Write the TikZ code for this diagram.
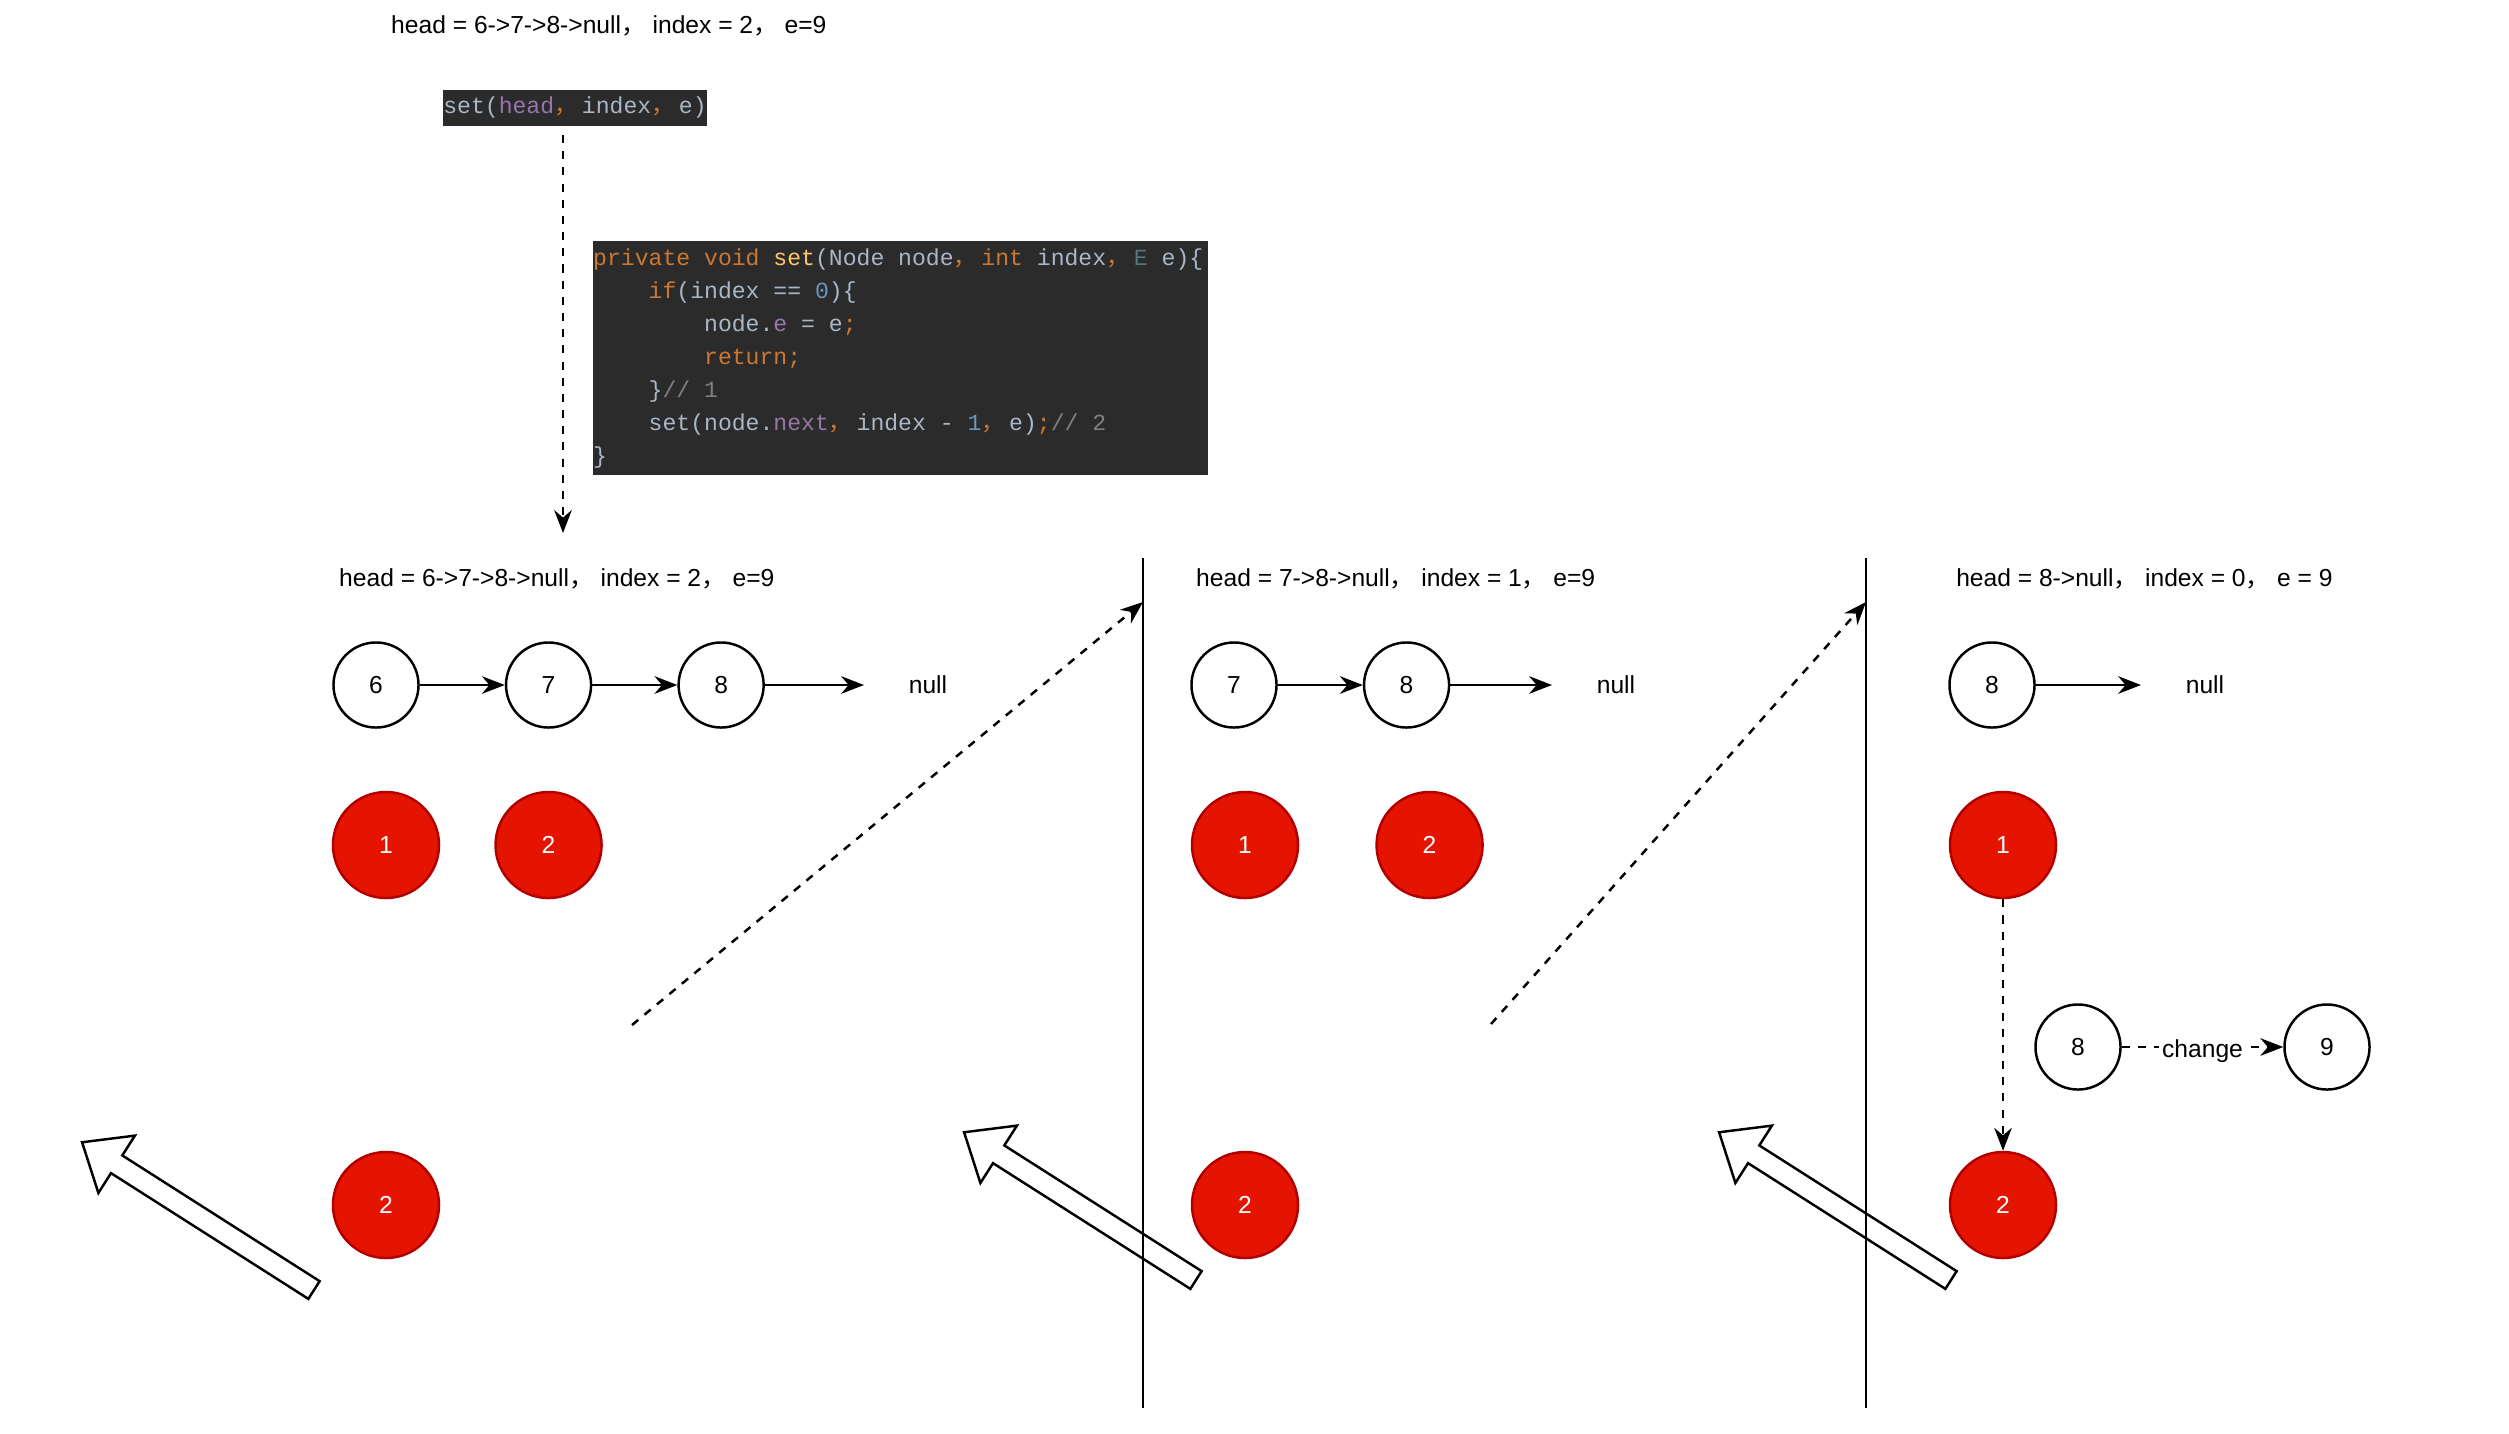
\documentclass[tikz,border=0pt]{standalone}
\usepackage{fontspec}
\setmainfont{Liberation Sans}
\newfontfamily\cjk{Noto Sans CJK SC}
\newfontfamily\codefont{Liberation Mono}
\usetikzlibrary{positioning,chains,arrows.meta}
\definecolor{callred}{RGB}{229,20,0}
\definecolor{callline}{RGB}{178,0,0}
\definecolor{codebg}{RGB}{43,43,43}
\definecolor{codetxt}{RGB}{169,183,198}
\definecolor{codekey}{RGB}{204,120,50}
\definecolor{codefun}{RGB}{255,198,109}
\definecolor{codefld}{RGB}{152,118,170}
\definecolor{codenum}{RGB}{104,151,187}
\definecolor{codecmt}{RGB}{128,128,128}
\definecolor{codetyp}{RGB}{80,120,116}
\newcommand{\fc}{{\cjk ，}}
\newcommand{\cc}{\makebox[1.2em][l]{\cjk\color{codekey}，}}
\newcommand{\ws}{\hspace*{0.6em}}
\newcommand{\ind}[1]{\hspace*{#1em}}

\begin{document}
\begin{tikzpicture}[x=0.01cm,y=-0.01cm,line width=0.7pt,
  font=\fontsize{7pt}{8.4pt}\selectfont,
  >={Stealth[length=6.5pt,width=5pt]},
  caption/.style={anchor=west,inner sep=0pt},
  listnode/.style={circle,draw,minimum size=8.5mm,inner sep=0pt},
  callnode/.style={circle,draw=callline,fill=callred,text=white,minimum size=10.6mm,inner sep=0pt},
  codebox/.style={fill=codebg,text=codetxt,inner xsep=0pt,inner ysep=2pt,
    font=\codefont\fontsize{6.57pt}{9.39pt}\selectfont,align=left},
  link/.style={->},
  calllink/.style={->,dash pattern=on 2.3pt off 2.3pt},
  divider/.style={line width=0.8pt},
  backarrow/.style={line width=0.7pt,line join=miter}
]
\useasboundingbox (0,0) rectangle (2509,1433);

% the call
\node[caption] (top) at (390,26) {head = 6->7->8->null\fc{} index = 2\fc{} e=9};
\node[codebox,minimum height=0.3cm] (call) at (575,108)
  {set(\textcolor{codefld}{head}\cc index\cc e)};
\coordinate (callin) at (563,533);
\draw[calllink,shorten <=0.08cm] (callin |- call.south) -- (callin);

% the method
\node[codebox,anchor=north west,text width=6.14cm,minimum height=2.3cm] (code) at (592,240) {%
\textcolor{codekey}{private\ws void\ws}\textcolor{codefun}{set}(Node\ws node\cc\textcolor{codekey}{int\ws}index\cc\textcolor{codetyp}{E\ws}e)\{\\
\ind{2.4}\textcolor{codekey}{if}(index\ws ==\ws\textcolor{codenum}{0})\{\\
\ind{4.8}node.\textcolor{codefld}{e}\ws =\ws e\textcolor{codekey}{;}\\
\ind{4.8}\textcolor{codekey}{return;}\\
\ind{2.4}\}\textcolor{codecmt}{//\ws 1}\\
\ind{2.4}set(node.\textcolor{codefld}{next}\cc index\ws -\ws\textcolor{codenum}{1}\cc e)\textcolor{codekey}{;}\textcolor{codecmt}{//\ws 2}\\
\}};

% first call, index = 2
\node[caption] (t1) at (338,579) {head = 6->7->8->null\fc{} index = 2\fc{} e=9};
\begin{scope}[start chain=going right,node distance=8.5mm]
  \node[listnode,on chain] (a6) at (376,685) {6};
  \node[listnode,on chain] (a7) {7};
  \node[listnode,on chain] (a8) {8};
\end{scope}
\coordinate (aend) at (864,685);
\node (anull) at (928,685) {null};
\draw[link] (a6) -- (a7);
\draw[link] (a7) -- (a8);
\draw[link] (a8) -- (aend);
\node[callnode] (a1) at (386,845) {1};
\node[callnode,right=5.4mm of a1] (a2) {2};
\node[callnode] (ab) at (386,1205) {2};

% second call, index = 1
\node[caption] (t2) at (1195,579) {head = 7->8->null\fc{} index = 1\fc{} e=9};
\begin{scope}[start chain=going right,node distance=8.5mm]
  \node[listnode,on chain] (b7) at (1234,685) {7};
  \node[listnode,on chain] (b8) {8};
\end{scope}
\coordinate (bend) at (1552,685);
\node (bnull) at (1616,685) {null};
\draw[link] (b7) -- (b8);
\draw[link] (b8) -- (bend);
\node[callnode] (b1) at (1245,845) {1};
\node[callnode,right=7.6mm of b1] (b2) {2};
\node[callnode] (bb) at (1245,1205) {2};

% third call, index = 0
\node[caption] (t3) at (1955,579) {head = 8->null\fc{} index = 0\fc{} e = 9};
\node[listnode] (c8) at (1992,685) {8};
\coordinate (cend) at (2141,685);
\node (cnull) at (2205,685) {null};
\draw[link] (c8) -- (cend);
\node[callnode] (c1) at (2003,845) {1};
\node[callnode] (cb) at (2003,1205) {2};
\node[listnode] (old) at (2078,1047) {8};
\node[listnode] (new) at (2327,1047) {9};
\draw[calllink] (c1) -- (cb);
\draw[calllink] (old) -- node[fill=white,inner sep=1pt,yshift=-0.04cm] {change} (new);

% the dividers
\coordinate (d1top) at (1143,558);
\coordinate (d1bot) at (1143,1408);
\coordinate (d2top) at (1866,558);
\coordinate (d2bot) at (1866,1408);
\draw[divider] (d1top) -- (d1bot);
\draw[divider] (d2top) -- (d2bot);

% going into the next call
\coordinate (go1) at (632,1025);
\coordinate (in1) at (1143,602);
\coordinate (go2) at (1491,1024);
\coordinate (in2) at (1866,602);
\draw[calllink] (go1) -- (in1);
\draw[calllink] (go2) -- (in2);

% the way back
\foreach \tx/\ty in {314/1290,1196/1280,1951/1280}
  \draw[backarrow,shift={(\tx,\ty)},rotate=147.5]
    (0,-10.5) -- (234,-10.5) -- (234,-34) -- (275,0) -- (234,34) -- (234,10.5) -- (0,10.5) -- cycle;
\end{tikzpicture}
\end{document}
